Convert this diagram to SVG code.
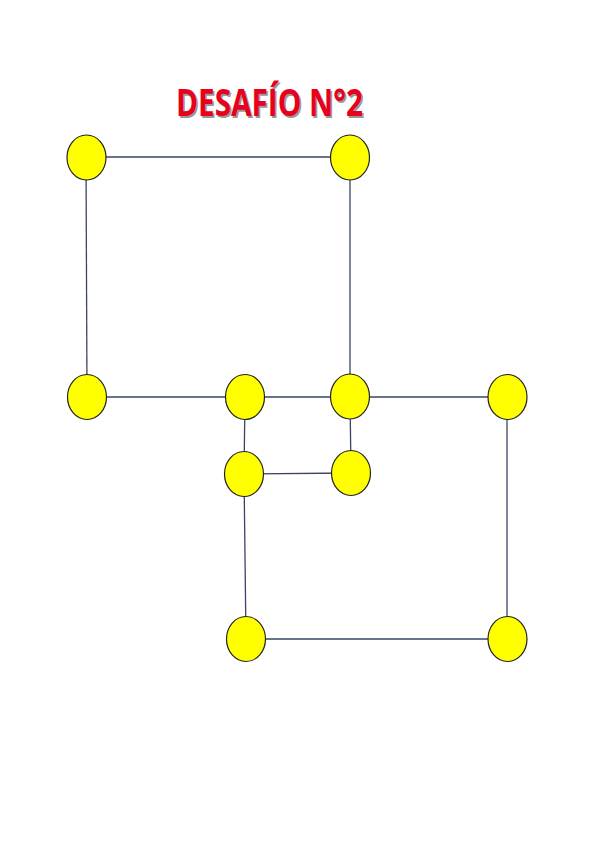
<svg xmlns="http://www.w3.org/2000/svg" width="600" height="848" viewBox="0 0 600 848">
<defs>
<style>
.edge{stroke:#3a4466;stroke-width:1.3;fill:none}
.node{fill:#ffff00;stroke:#222222;stroke-width:1.2}
.title{font-family:"Open Sans","Liberation Sans",sans-serif;font-weight:bold;font-size:38px;fill:#e8001c}
.shadow{font-family:"Open Sans","Liberation Sans",sans-serif;font-weight:bold;font-size:38px;fill:#555555;opacity:0.6}
</style>
</defs>
<rect width="600" height="848" fill="#ffffff"/>
<g id="title">
<text class="shadow" x="177.5" y="117.5" textLength="187" lengthAdjust="spacingAndGlyphs">DESAFÍO N°2</text>
<text class="title" x="176" y="116" textLength="187" lengthAdjust="spacingAndGlyphs">DESAFÍO N°2</text>
</g>
<g id="connectors">
<line class="edge" x1="86" y1="157" x2="350" y2="157"/>
<line class="edge" x1="86" y1="157" x2="87" y2="397"/>
<line class="edge" x1="350" y1="157" x2="350" y2="397"/>
<line class="edge" x1="87" y1="397" x2="507" y2="397"/>
<line class="edge" x1="245" y1="397" x2="244" y2="474"/>
<line class="edge" x1="350" y1="397" x2="351" y2="473"/>
<line class="edge" x1="244" y1="474" x2="351" y2="473"/>
<line class="edge" x1="244" y1="474" x2="246" y2="639"/>
<line class="edge" x1="507" y1="397" x2="507" y2="639"/>
<line class="edge" x1="246" y1="639" x2="507" y2="639"/>
</g>
<g id="n1"><ellipse class="node" cx="86.5" cy="157.5" rx="19.5" ry="22.5"/></g>
<g id="n2"><ellipse class="node" cx="350" cy="157.5" rx="19.5" ry="22.5"/></g>
<g id="n3"><ellipse class="node" cx="87" cy="397" rx="19.5" ry="22.5"/></g>
<g id="n4"><ellipse class="node" cx="245" cy="397" rx="19.5" ry="22.5"/></g>
<g id="n5"><ellipse class="node" cx="350" cy="396.5" rx="19.5" ry="22.5"/></g>
<g id="n6"><ellipse class="node" cx="507.5" cy="397" rx="19.5" ry="22.5"/></g>
<g id="n7"><ellipse class="node" cx="244" cy="474" rx="19.5" ry="22.5"/></g>
<g id="n8"><ellipse class="node" cx="351" cy="473" rx="19.5" ry="22.5"/></g>
<g id="n9"><ellipse class="node" cx="246" cy="639" rx="19.5" ry="22.5"/></g>
<g id="n10"><ellipse class="node" cx="507.5" cy="639" rx="19.5" ry="22.5"/></g>
</svg>
